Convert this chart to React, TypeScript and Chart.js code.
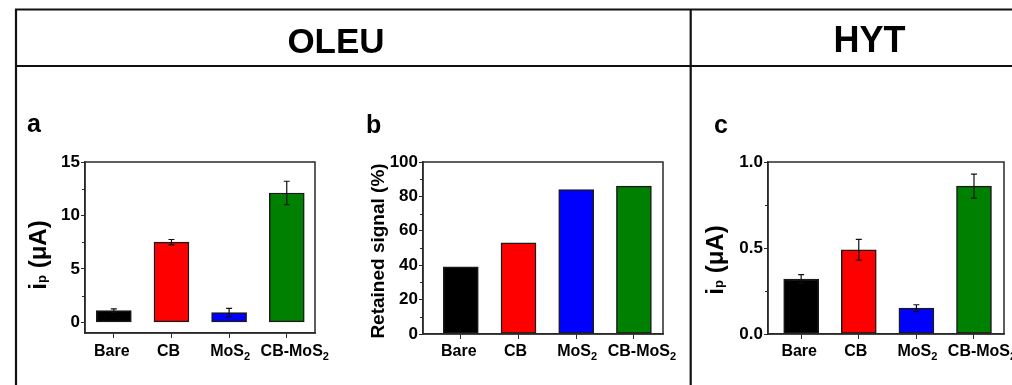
import React, { useEffect, useRef } from "react";
import { Chart, registerables } from "chart.js";

Chart.register(...registerables);

// ---------------- data ----------------
const categories = ["Bare", "CB", "MoS₂", "CB-MoS₂"];
const barColors = ["#000000", "#ff0000", "#0000ff", "#008000"];

const oleuPeakCurrent = [1.1, 7.5, 0.9, 12.1];
const oleuPeakCurrentErr = [0.15, 0.25, 0.4, 1.1];

const oleuRetainedSignal = [39, 53, 84, 86];

const hytPeakCurrent = [0.32, 0.49, 0.15, 0.86];
const hytPeakCurrentErr = [0.025, 0.06, 0.02, 0.07];

const aMajorTicks = [0, 5, 10, 15];
const aMinorTicks = [2.5, 7.5, 12.5];
const bMajorTicks = [0, 20, 40, 60, 80, 100];
const bMinorTicks = [10, 30, 50, 70, 90];
const cMajorTicks = [0, 0.5, 1.0];
const cMinorTicks = [0.25, 0.75];

const headers = ["OLEU", "HYT"];
const panelLetters = ["a", "b", "c"];
const currentTitle = "iₚ (μA)";
const retainedTitle = "Retained signal (%)";

// ---------------- helpers ----------------
const FONT = "'Liberation Sans', Arial, Helvetica, sans-serif";
const W = 1012;
const H = 385;
const Y_AXIS_W = 45;
const X_AXIS_H = 30;
const AXIS_COLOR = "#2a2a2a";
const LABEL_NUDGE = [-2, -3, 1, 8];

const SUB: Record<string, string> = { "₂": "2", "ₚ": "p" };

function drawRich(
  ctx: CanvasRenderingContext2D,
  text: string,
  x: number,
  y: number,
  size: number,
  subSize: number,
  subDrop: number,
  align: "center" | "left"
) {
  const parts: { t: string; sub: boolean }[] = [];
  for (const ch of text) {
    const sub = ch in SUB;
    const t = sub ? SUB[ch] : ch;
    const last = parts[parts.length - 1];
    if (last && last.sub === sub) last.t += t;
    else parts.push({ t, sub });
  }
  const widths = parts.map((p) => {
    ctx.font = `bold ${p.sub ? subSize : size}px ${FONT}`;
    return ctx.measureText(p.t).width;
  });
  const total = widths.reduce((a, b) => a + b, 0);
  let cx = align === "center" ? x - total / 2 : x;
  ctx.textAlign = "left";
  ctx.textBaseline = "alphabetic";
  parts.forEach((p, i) => {
    ctx.font = `bold ${p.sub ? subSize : size}px ${FONT}`;
    ctx.fillText(p.t, cx, y + (p.sub ? subDrop : 0));
    cx += widths[i];
  });
}

interface PanelCfg {
  values: number[];
  errors?: number[];
  yMin: number;
  yMax: number;
  major: number[];
  decimals: number;
  minor: number[];
  title: string;
  titleSize: number;
  titleX: number;
  titleY: number;
  plot: { l: number; r: number; t: number; b: number };
  xMin: number;
  xMax: number;
  decor?: boolean;
}

const panelA: PanelCfg = {
  values: oleuPeakCurrent,
  errors: oleuPeakCurrentErr,
  yMin: -1,
  yMax: 15,
  major: aMajorTicks,
  decimals: 0,
  minor: aMinorTicks,
  title: currentTitle,
  titleSize: 24,
  titleX: 46,
  titleY: 255,
  plot: { l: 85, r: 315, t: 162, b: 333 },
  xMin: -0.5,
  xMax: 3.49,
  decor: true,
};

const panelB: PanelCfg = {
  values: oleuRetainedSignal,
  yMin: 0,
  yMax: 100,
  major: bMajorTicks,
  decimals: 0,
  minor: bMinorTicks,
  title: retainedTitle,
  titleSize: 19,
  titleX: 384,
  titleY: 251,
  plot: { l: 423, r: 663, t: 162, b: 334 },
  xMin: -0.655,
  xMax: 3.504,
};

const panelC: PanelCfg = {
  values: hytPeakCurrent,
  errors: hytPeakCurrentErr,
  yMin: 0,
  yMax: 1,
  major: cMajorTicks,
  decimals: 1,
  minor: cMinorTicks,
  title: currentTitle,
  titleSize: 24,
  titleX: 723,
  titleY: 260,
  plot: { l: 768, r: 1004, t: 162, b: 334 },
  xMin: -0.576,
  xMax: 3.521,
};

function makePanel(canvas: HTMLCanvasElement, cfg: PanelCfg): Chart {
  const panelPlugin = {
    id: "panelExtras",
    beforeDraw(chart: any) {
      if (!cfg.decor) return;
      const ctx = chart.ctx as CanvasRenderingContext2D;
      ctx.save();
      // table lines
      ctx.strokeStyle = "#111";
      ctx.lineWidth = 2.2;
      ctx.beginPath();
      ctx.moveTo(15, 9.5);
      ctx.lineTo(W, 9.5);
      ctx.moveTo(15, 66);
      ctx.lineTo(W, 66);
      ctx.moveTo(16, 8.5);
      ctx.lineTo(16, H);
      ctx.moveTo(690.7, 8.5);
      ctx.lineTo(690.7, H);
      ctx.stroke();
      // headers
      ctx.fillStyle = "#000";
      ctx.textAlign = "center";
      ctx.textBaseline = "alphabetic";
      ctx.font = `bold 35px ${FONT}`;
      ctx.fillText(headers[0], 336, 53);
      ctx.font = `bold 36px ${FONT}`;
      ctx.fillText(headers[1], 869.5, 52);
      // panel letters
      ctx.font = `bold 25px ${FONT}`;
      ctx.textAlign = "left";
      ctx.fillText(panelLetters[0], 27, 132);
      ctx.fillText(panelLetters[1], 366, 133);
      ctx.fillText(panelLetters[2], 714, 133);
      ctx.restore();
    },
    afterDatasetsDraw(chart: any) {
      if (!cfg.errors) return;
      const ctx = chart.ctx as CanvasRenderingContext2D;
      const meta = chart.getDatasetMeta(0);
      const ys = chart.scales.y;
      ctx.save();
      ctx.strokeStyle = "#111";
      ctx.lineWidth = 1.2;
      meta.data.forEach((el: any, i: number) => {
        const v = cfg.values[i];
        const e = cfg.errors![i];
        const yTop = ys.getPixelForValue(v + e);
        const yBot = ys.getPixelForValue(v - e);
        const x = el.x;
        ctx.beginPath();
        ctx.moveTo(x, yTop);
        ctx.lineTo(x, yBot);
        ctx.moveTo(x - 3, yTop);
        ctx.lineTo(x + 3, yTop);
        ctx.moveTo(x - 3, yBot);
        ctx.lineTo(x + 3, yBot);
        ctx.stroke();
      });
      ctx.restore();
    },
    afterDraw(chart: any) {
      const ctx = chart.ctx as CanvasRenderingContext2D;
      const a = chart.chartArea;
      const ys = chart.scales.y;
      const xs = chart.scales.x;
      ctx.save();
      // frame
      ctx.strokeStyle = AXIS_COLOR;
      ctx.lineWidth = 1.5;
      ctx.strokeRect(a.left, a.top, a.right - a.left, a.bottom - a.top);
      // minor ticks
      ctx.lineWidth = 1;
      ctx.beginPath();
      cfg.minor.forEach((v) => {
        const y = Math.round(ys.getPixelForValue(v)) + 0.5;
        ctx.moveTo(a.left - 3, y);
        ctx.lineTo(a.left, y);
      });
      ctx.stroke();
      // x labels with subscripts
      ctx.fillStyle = "#000";
      categories.forEach((c, i) => {
        const x = xs.getPixelForValue(i) + LABEL_NUDGE[i];
        drawRich(ctx, c, x, 356, 16, 11, 4, "center");
      });
      // y title (rotated)
      ctx.translate(cfg.titleX, cfg.titleY);
      ctx.rotate(-Math.PI / 2);
      drawRich(ctx, cfg.title, 0, 0, cfg.titleSize, 13, 0, "center");
      ctx.restore();
    },
  };

  return new Chart(canvas, {
    type: "bar",
    data: {
      datasets: [
        {
          data: cfg.values.map((v, i) => ({ x: i, y: v })),
          backgroundColor: barColors,
          borderColor: "#1a1a1a",
          borderWidth: 1.5,
          borderSkipped: false,
          barThickness: 35,
        },
      ],
    },
    options: {
      animation: false,
      responsive: false,
      maintainAspectRatio: false,
      events: [],
      layout: {
        padding: {
          left: cfg.plot.l - Y_AXIS_W,
          right: W - cfg.plot.r,
          top: cfg.plot.t,
          bottom: H - cfg.plot.b - X_AXIS_H,
        },
      },
      plugins: {
        legend: { display: false },
        tooltip: { enabled: false },
      },
      scales: {
        x: {
          type: "linear",
          min: cfg.xMin,
          max: cfg.xMax,
          offset: false,
          afterBuildTicks: (s: any) => {
            s.ticks = categories.map((_, i) => ({ value: i }));
          },
          afterFit: (s: any) => {
            s.height = X_AXIS_H;
          },
          ticks: { display: false, autoSkip: false },
          grid: {
            offset: false,
            drawOnChartArea: false,
            drawTicks: true,
            tickLength: 5,
            color: AXIS_COLOR,
            lineWidth: 1,
          },
          border: { color: AXIS_COLOR, width: 1.5 },
        },
        y: {
          type: "linear",
          min: cfg.yMin,
          max: cfg.yMax,
          afterBuildTicks: (s: any) => {
            s.ticks = cfg.major.map((v) => ({ value: v }));
          },
          afterFit: (s: any) => {
            s.width = Y_AXIS_W;
          },
          ticks: {
            color: "#000",
            padding: 1,
            autoSkip: false,
            font: { family: FONT, size: 17, weight: "bold" },
            callback: (v: any) => Number(v).toFixed(cfg.decimals),
          },
          grid: {
            drawOnChartArea: false,
            drawTicks: true,
            tickLength: 4,
            color: AXIS_COLOR,
            lineWidth: 1,
          },
          border: { color: AXIS_COLOR, width: 1.5 },
        },
      },
    } as any,
    plugins: [panelPlugin as any],
  });
}

export default function App() {
  const r1 = useRef<HTMLCanvasElement>(null);
  const r2 = useRef<HTMLCanvasElement>(null);
  const r3 = useRef<HTMLCanvasElement>(null);

  useEffect(() => {
    const charts = [
      makePanel(r1.current!, panelA),
      makePanel(r2.current!, panelB),
      makePanel(r3.current!, panelC),
    ];
    return () => charts.forEach((c) => c.destroy());
  }, []);

  const cs: React.CSSProperties = {
    position: "absolute",
    left: 0,
    top: 0,
    width: W,
    height: H,
  };

  return (
    <div
      style={{
        position: "absolute",
        left: 0,
        top: 0,
        width: W,
        height: H,
        background: "#fff",
        overflow: "hidden",
      }}
    >
      <canvas ref={r1} width={W} height={H} style={cs} />
      <canvas ref={r2} width={W} height={H} style={cs} />
      <canvas ref={r3} width={W} height={H} style={cs} />
    </div>
  );
}
